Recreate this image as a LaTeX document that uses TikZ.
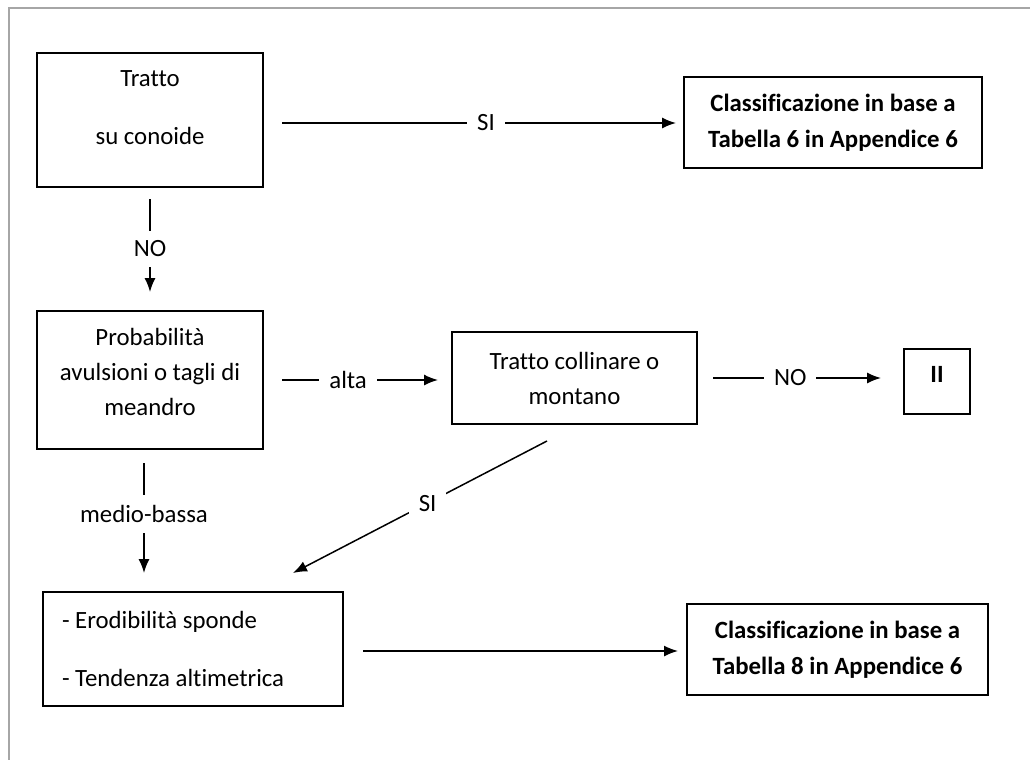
\documentclass[tikz,border=0pt]{standalone}
\usepackage{fontspec}
\setmainfont{Carlito}[Ligatures=NoCommon]
\usetikzlibrary{arrows.meta}

\begin{document}
\begin{tikzpicture}[x=0.5pt,y=-0.5pt,>={Latex[length=7pt,width=5.5pt]},
  box/.style={draw,line width=1pt,align=center,inner sep=2pt,font=\fontsize{12.4}{17.5}\selectfont},
  bbox/.style={box,font=\fontsize{12.4}{18}\selectfont\bfseries},
  arr/.style={->,line width=0.75pt},
  lbl/.style={fill=white,inner sep=5pt,font=\fontsize{12.4}{14}\selectfont}]
  \useasboundingbox (0,0) rectangle (1030,760);
  \draw[gray!70,line width=0.6pt] (9,760) -- (9,8) -- (1030,8);
  \node[box,minimum width=113pt,minimum height=67pt,text depth=12pt] (tratto) at (150,120) {Tratto\\[11.5pt]su conoide};
  \node[bbox,minimum width=149pt,minimum height=45.5pt] (tab6) at (833,122.5) {Classificazione in base a\\Tabella 6 in Appendice 6};
  \node[box,minimum width=113pt,minimum height=69pt,text depth=8pt] (prob) at (150,380) {Probabilità\\avulsioni o tagli di\\meandro};
  \node[box,minimum width=122.5pt,minimum height=46pt] (coll) at (574.5,378) {Tratto collinare o\\montano};
  \node[bbox,minimum width=33pt,minimum height=32.5pt,text depth=7.5pt] (ii) at (937,381.5) {II};
  \node[box,align=flush left,text width=131pt,inner xsep=9.5pt,minimum height=57pt] (eros) at (193,649) {- Erodibilità sponde\\[11.5pt]- Tendenza altimetrica};
  \node[bbox,minimum width=150.5pt,minimum height=45.5pt] (tab8) at (837.5,649.5) {Classificazione in base a\\Tabella 8 in Appendice 6};
  \coordinate (siS) at ([xshift=-13.75pt,yshift=-8pt]coll.south);
  \coordinate (siE) at ([xshift=50pt,yshift=9pt]eros.north);

  \draw[arr,shorten <=9pt,shorten >=3.5pt] ([yshift=-1.5pt]tratto.east) -- node[lbl,pos=0.53]{SI} ([yshift=-1.5pt]tratto.east -| tab6.west);
  \draw[arr,shorten <=5.5pt,shorten >=9pt] (tratto.south) -- node[lbl]{NO} (prob.north);
  \draw[arr,shorten <=9pt,shorten >=6.5pt] (prob.east) -- node[lbl,pos=0.45]{alta} (prob.east -| coll.west);
  \draw[arr,shorten <=7.5pt,shorten >=11pt] (coll.east) -- node[lbl,pos=0.45]{NO} (coll.east -| ii.west);
  \draw[arr,shorten <=6.5pt,shorten >=9pt] ([xshift=-3pt]prob.south) -- node[lbl,pos=0.455]{medio-bassa} ([xshift=-3pt]prob.south |- eros.north);
  \draw[arr] (siS) -- node[lbl,pos=0.47]{SI} (siE);
  \draw[arr,shorten <=9.5pt,shorten >=4pt] ([yshift=-1pt]eros.east) -- ([yshift=-1pt]eros.east -| tab8.west);
\end{tikzpicture}
\end{document}
